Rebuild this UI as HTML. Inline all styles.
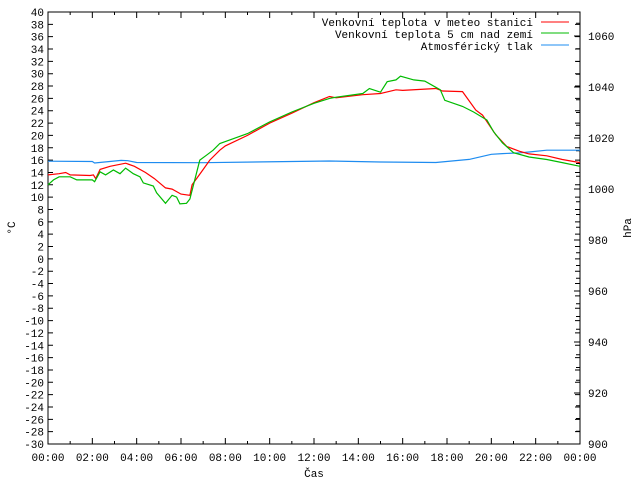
<!DOCTYPE html>
<html><head><meta charset="utf-8"><style>
body{margin:0;background:#fff}
svg{display:block;font-family:"Liberation Mono",monospace;font-size:11px}
</style></head><body>
<svg id="chart" width="640" height="480" viewBox="0 0 640 480" xmlns="http://www.w3.org/2000/svg">
<rect width="640" height="480" fill="#fff"/>
<g id="axes"></g>
<g id="series"></g>
<text transform="translate(15,228) rotate(-90)" text-anchor="middle">°C</text>
<text transform="translate(631,228) rotate(-90)" text-anchor="middle">hPa</text>
<text x="314" y="477" text-anchor="middle">Čas</text>
<g>
<text x="533" y="26" text-anchor="end">Venkovní teplota v meteo stanici</text>
<line x1="541" y1="22" x2="569" y2="22" stroke="#f00" stroke-width="1"/>
<text x="533" y="38" text-anchor="end">Venkovní teplota 5 cm nad zemí</text>
<line x1="541" y1="33" x2="569" y2="33" stroke="#0b0" stroke-width="1"/>
<text x="533" y="50" text-anchor="end">Atmosférický tlak</text>
<line x1="541" y1="45" x2="569" y2="45" stroke="#1e8cf0" stroke-width="1"/>
</g>
</svg>
<script>
const xTickLabels=["00:00","02:00","04:00","06:00","08:00","10:00","12:00","14:00","16:00","18:00","20:00","22:00","00:00"];
const redHours=[0,0.5,0.8,1,1.9,2.05,2.15,2.35,2.8,3.5,3.9,4.4,4.8,5.3,5.6,6,6.4,6.5,6.9,7.3,7.75,8,9,10,11,12,12.7,13,14.2,15,15.7,16,17.5,17.8,18.7,19.3,19.6,19.9,20.2,20.7,21.3,21.7,22.5,23.2,24];
const redValues=[13.6,13.8,14.0,13.6,13.5,13.6,13.0,14.5,15.0,15.5,15.0,14.0,13.0,11.5,11.3,10.5,10.3,12,14,16,17.6,18.3,20,22,23.6,25.3,26.3,26.1,26.6,26.8,27.4,27.3,27.6,27.2,27.1,24.1,23.3,21.7,20.1,18.2,17.4,17.0,16.7,16.1,15.6];
const greenHours=[0,0.25,0.5,1,1.3,1.75,2,2.1,2.35,2.6,2.95,3.25,3.5,3.85,4.15,4.3,4.75,4.9,5.3,5.6,5.8,5.95,6.25,6.4,6.6,6.85,7.15,7.45,7.75,8,9,10,11,12,12.7,13,14.2,14.5,15,15.3,15.7,15.9,16.5,17,17.7,17.9,18.7,19.2,19.8,20.1,20.5,21,21.7,22.5,23.2,24];
const greenValues=[12.0,12.8,13.3,13.3,12.8,12.8,12.8,12.5,14.1,13.6,14.4,13.8,14.7,13.8,13.3,12.3,11.8,10.7,9.0,10.3,10.0,8.9,9.0,9.7,12.5,16.0,16.8,17.6,18.7,19,20.3,22.2,23.8,25.2,26.0,26.2,26.8,27.6,27.0,28.7,29.0,29.6,29.0,28.8,27.4,25.7,24.7,23.8,22.5,20.6,18.8,17.2,16.5,16.1,15.6,15.0];
const pressureHours=[0,2,2.1,3.3,3.6,4,7,12.7,15,17.5,19,20,20.5,21.3,21.7,22.5,24];
const pressureValues=[1010.9,1010.8,1010.2,1011.2,1011.1,1010.4,1010.3,1011.0,1010.6,1010.4,1011.6,1013.6,1013.9,1014.2,1014.5,1015.2,1015.2];
const yTicks=[];for(let v=-30;v<=40;v+=2)yTicks.push(v);
const y2Ticks=[900,920,940,960,980,1000,1020,1040,1060];

const L=48,R=580,T=12,B=444;
const xs=h=>L+(R-L)*h/24;
const ys=v=>B-(B-T)*(v+30)/70;
const yp=p=>444-(p-900)*2.55;
const NS="http://www.w3.org/2000/svg";
const axes=document.getElementById('axes'),ser=document.getElementById('series');
function mk(tag,attrs,parent){const e=document.createElementNS(NS,tag);for(const k in attrs)e.setAttribute(k,attrs[k]);parent.appendChild(e);return e;}
const frame=mk('rect',{x:L,y:T,width:R-L,height:B-T,fill:'none',stroke:'#000','stroke-width':1},axes);


yTicks.forEach(v=>{const y=ys(v);
 const t=mk('path',{d:`M${L} ${y}h5M${R} ${y}h-5`,stroke:'#000'},axes);
 
 
 const tx=mk('text',{x:L-4,y:y+4,'text-anchor':'end'},axes);tx.textContent=v;
 
 });
for(let p=905;p<1070;p+=5){const y=yp(p);const t=mk('path',{d:`M${R} ${y}h-${p%20==0?6:4}`,stroke:'#000'},axes);
 
 }
y2Ticks.forEach(p=>{const tx=mk('text',{x:588,y:yp(p)+4},axes);tx.textContent=p;
 
 });
for(let h=0;h<=24;h++){const x=xs(h);const len=h%2==0?6:3;
 const t=mk('path',{d:`M${x} ${B}v-${len}M${x} ${T}v${len}`,stroke:'#000'},axes);
 
 }
xTickLabels.forEach((s,i)=>{const tx=mk('text',{x:xs(i*2),y:461,'text-anchor':'middle'},axes);tx.textContent=s;
 
 });
function line(hs,vs,f,color,name){const d=hs.map((h,i)=>(i?'L':'M')+xs(h).toFixed(1)+' '+f(vs[i]).toFixed(1)).join('');
 const p=mk('path',{d:d,fill:'none',stroke:color,'stroke-width':1.2},ser);
 
 }
line(pressureHours,pressureValues,yp,'#1e8cf0','pressure-line');
line(redHours,redValues,ys,'#f00','station-temperature-line');
line(greenHours,greenValues,ys,'#0b0','ground-temperature-line');
</script>
</body></html>
